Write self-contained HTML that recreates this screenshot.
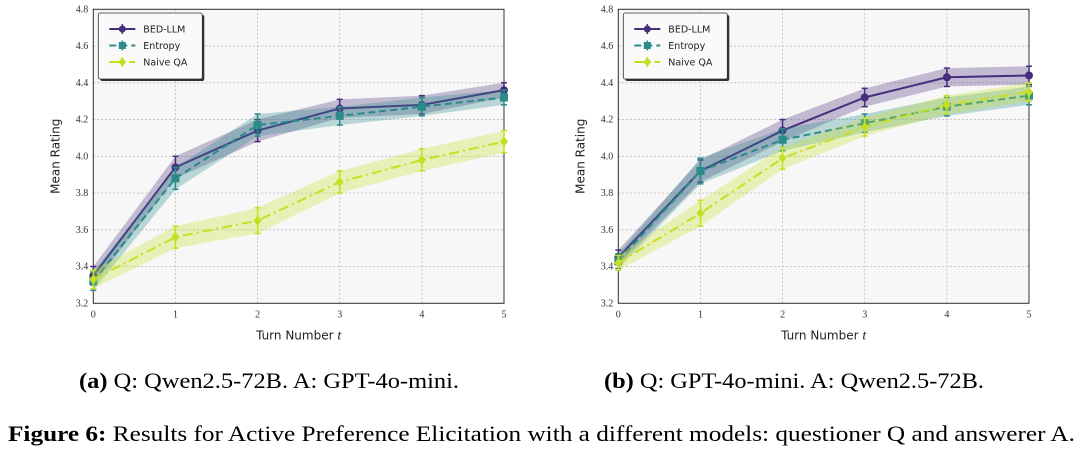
<!DOCTYPE html>
<html><head><meta charset="utf-8"><style>
body{margin:0;background:#fff}
svg{display:block;font-family:"DejaVu Sans","Liberation Sans",sans-serif}
.serif{font-family:"Liberation Serif",serif}
</style></head><body>
<svg id="fig" width="1080" height="452" viewBox="0 0 1080 452">
<g id="pa"></g>
<g id="pb"></g>
<text class="serif" x="79" y="388" font-size="22" textLength="380" lengthAdjust="spacingAndGlyphs"><tspan font-weight="bold">(a)</tspan> Q: Qwen2.5-72B. A: GPT-4o-mini.</text>
<text class="serif" x="604" y="388" font-size="22" textLength="380" lengthAdjust="spacingAndGlyphs"><tspan font-weight="bold">(b)</tspan> Q: GPT-4o-mini. A: Qwen2.5-72B.</text>
<text class="serif" x="8" y="441" font-size="22" textLength="1067" lengthAdjust="spacingAndGlyphs"><tspan font-weight="bold">Figure 6:</tspan> Results for Active Preference Elicitation with a different models: questioner Q and answerer A.</text>
</svg>
<script>
const turns=[0,1,2,3,4,5];
const yTicks=[3.2,3.4,3.6,3.8,4.0,4.2,4.4,4.6,4.8];
const seriesNames=["BED-LLM","Entropy","Naive QA"];
const aBed=[3.35,3.94,4.14,4.26,4.28,4.36];
const aEnt=[3.32,3.88,4.17,4.22,4.27,4.32];
const aNaive=[3.33,3.56,3.65,3.86,3.98,4.08];
const bBed=[3.45,3.92,4.14,4.32,4.43,4.44];
const bEnt=[3.43,3.92,4.09,4.18,4.27,4.33];
const bNaive=[3.42,3.69,3.99,4.16,4.28,4.35];
const errA=[[0.05,0.06,0.06,0.05,0.05,0.04],[0.05,0.06,0.06,0.05,0.05,0.04],[0.05,0.06,0.07,0.06,0.06,0.06]];
const errB=[[0.04,0.06,0.06,0.05,0.05,0.05],[0.04,0.07,0.06,0.05,0.05,0.05],[0.04,0.07,0.06,0.05,0.05,0.05]];
const NS="http://www.w3.org/2000/svg";
function mk(p,t,a){const e=document.createElementNS(NS,t);for(const k in a)e.setAttribute(k,a[k]);p.appendChild(e);return e;}
const colors=["#472d7b","#2a8b8a","#c5e021"];
const dashes=["none","7,4","10,4,2,4"];
function draw(g,x0,series,errs,tag){
  const X0=x0,X1=x0+410.7,Y0=303.3,Y1=9.3;
  const sx=v=>X0+(v-0)/(5-0)*(X1-X0);
  const sy=v=>Y0-(v-3.2)/(4.8-3.2)*(Y0-Y1);
  let r=mk(g,"rect",{x:X0,y:Y1,width:X1-X0,height:Y0-Y1,fill:"#f7f7f7",stroke:"none"});
  
  
  turns.forEach(t=>{
    mk(g,"line",{x1:sx(t),x2:sx(t),y1:Y1,y2:Y0,stroke:"#bbb","stroke-width":0.8,"stroke-dasharray":"2,2"});
    const tl=mk(g,"text",{x:sx(t),y:Y0+14,"font-size":10,"text-anchor":"middle",fill:"#333",class:"serif"});tl.textContent=t;
    
    
  });
  yTicks.forEach(v=>{
    mk(g,"line",{x1:X0,x2:X1,y1:sy(v),y2:sy(v),stroke:"#bbb","stroke-width":0.8,"stroke-dasharray":"2,2"});
    const tl=mk(g,"text",{x:X0-5,y:sy(v)+3,"font-size":10,"text-anchor":"end",fill:"#333",class:"serif"});tl.textContent=v.toFixed(1);
    
    
  });
  mk(g,"rect",{x:X0,y:Y1,width:X1-X0,height:Y0-Y1,fill:"none",stroke:"#333","stroke-width":1});
  const xt=mk(g,"text",{x:(X0+X1)/2,y:Y0+36,"font-size":12,"text-anchor":"middle",fill:"#222"});xt.innerHTML='Turn Number <tspan font-style="italic" class="serif" font-size="14">t</tspan>';
  
  
  const yt=mk(g,"text",{x:0,y:0,"font-size":12,"text-anchor":"middle",fill:"#222",transform:`translate(${X0-34},${(Y0+Y1)/2}) rotate(-90)`});yt.textContent="Mean Rating";
  
  
  series.forEach((s,i)=>{
    const sg=mk(g,"g",{});
    
    
    let up=turns.map(t=>sx(t)+","+sy(s[t]+errs[i][t])).join(" ");
    let dn=turns.slice().reverse().map(t=>sx(t)+","+sy(s[t]-errs[i][t])).join(" ");
    mk(sg,"polygon",{points:up+" "+dn,fill:colors[i],"fill-opacity":0.3});
    mk(sg,"polyline",{points:turns.map(t=>sx(t)+","+sy(s[t])).join(" "),fill:"none",stroke:colors[i],"stroke-width":2,"stroke-dasharray":dashes[i]});
    turns.forEach(t=>{
      const x=sx(t),a=sy(s[t]+errs[i][t]),b=sy(s[t]-errs[i][t]);
      mk(sg,"line",{x1:x,x2:x,y1:a,y2:b,stroke:colors[i],"stroke-width":1.5});
      mk(sg,"line",{x1:x-3,x2:x+3,y1:a,y2:a,stroke:colors[i],"stroke-width":1.5});
      mk(sg,"line",{x1:x-3,x2:x+3,y1:b,y2:b,stroke:colors[i],"stroke-width":1.5});
      let m;
      if(i===0)m=mk(sg,"circle",{cx:x,cy:sy(s[t]),r:4,fill:colors[i]});
      else if(i===1)m=mk(sg,"rect",{x:x-4,y:sy(s[t])-4,width:8,height:8,fill:colors[i]});
      else m=mk(sg,"polygon",{points:`${x},${sy(s[t])-5} ${x+4},${sy(s[t])} ${x},${sy(s[t])+5} ${x-4},${sy(s[t])}`,fill:colors[i]});
      
      
    });
  });
  const lg=mk(g,"g",{});
  
  
  mk(lg,"rect",{x:X0+7,y:15,width:104,height:66,fill:"#333",rx:2});
  mk(lg,"rect",{x:X0+5,y:13,width:104,height:66,fill:"#fafafa",stroke:"#333","stroke-width":0.8,rx:2});
  seriesNames.forEach((n,i)=>{
    const y=29+i*16.5,x=X0+16;
    const e=mk(lg,"g",{});
    
    
    mk(e,"line",{x1:x,x2:x+26,y1:y,y2:y,stroke:colors[i],"stroke-width":2,"stroke-dasharray":dashes[i]});
    mk(e,"line",{x1:x+13,x2:x+13,y1:y-5,y2:y+5,stroke:colors[i],"stroke-width":1.5});
    if(i===0)mk(e,"circle",{cx:x+13,cy:y,r:3.5,fill:colors[i]});
    else if(i===1)mk(e,"rect",{x:x+9.5,y:y-3.5,width:7,height:7,fill:colors[i]});
    else mk(e,"polygon",{points:`${x+13},${y-4.5} ${x+17},${y} ${x+13},${y+4.5} ${x+9},${y}`,fill:colors[i]});
    const tx=mk(e,"text",{x:x+34,y:y+3.5,"font-size":9.5,fill:"#222"});tx.textContent=n;
  });
}
draw(document.getElementById("pa"),93.3,[aBed,aEnt,aNaive],errA,"a");
draw(document.getElementById("pb"),618.3,[bBed,bEnt,bNaive],errB,"b");
</script>
</body></html>
